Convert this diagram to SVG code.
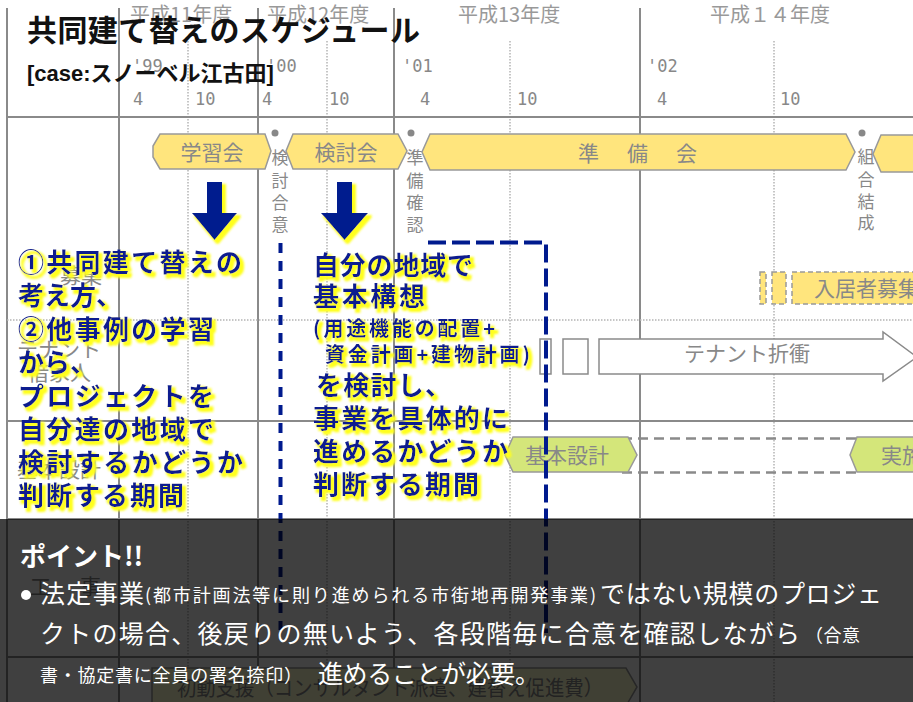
<svg xmlns="http://www.w3.org/2000/svg" width="913" height="702" viewBox="0 0 913 702">
<style>
.jp{font-family:'Noto Sans CJK JP','Noto Sans',sans-serif}
.gl{stroke:#8a8a8a;stroke-width:2;fill:none}
.dl{stroke:#b4b4b4;stroke-width:1.5;stroke-dasharray:1.5 1.5;fill:none}
.hdr{font-family:'Noto Sans CJK JP',sans-serif;font-size:20px;fill:#999}
.mono{font-family:'DejaVu Sans Mono','Liberation Mono',monospace;font-size:17px;fill:#888}
.lbl{font-family:'Noto Sans CJK JP',sans-serif;font-size:21px;fill:#888}
.vt{font-family:'Noto Sans CJK JP',sans-serif;font-size:17px;fill:#888;text-anchor:middle}
.yel{fill:#ffe57d;stroke:#999;stroke-width:1.5}
.grn{fill:#d4e67a;stroke:#999;stroke-width:1.5}
.wht{fill:#fff;stroke:#8a8a8a;stroke-width:1.5}
.dot{fill:#888}
.big{font-family:'Noto Sans CJK JP',sans-serif;font-weight:bold;fill:#0a1f8f}
.nav{stroke:#001a8e;stroke-width:4;fill:none}
.wt{font-family:'Noto Sans CJK JP',sans-serif;fill:#fff}
</style>
<defs>
<filter id="glow" x="-10%" y="-30%" width="130%" height="170%">
<feMorphology in="SourceAlpha" operator="dilate" radius="1.2" result="d"/>
<feOffset in="d" dx="3" dy="3" result="o"/>
<feGaussianBlur in="o" stdDeviation="1.3" result="b"/>
<feFlood flood-color="#ffff1a"/>
<feComposite in2="b" operator="in" result="y"/>
<feMerge><feMergeNode in="y"/><feMergeNode in="SourceGraphic"/></feMerge>
</filter>
</defs>
<rect width="913" height="702" fill="#fff"/>
<g id="grid">
<line class="gl" x1="7" y1="8" x2="7" y2="702"/>
<line class="gl" x1="119" y1="8" x2="119" y2="702"/>
<line class="gl" x1="258" y1="8" x2="258" y2="702"/>
<line class="gl" x1="394" y1="8" x2="394" y2="702"/>
<line class="gl" x1="640" y1="8" x2="640" y2="702"/>
<line class="dl" x1="188" y1="41" x2="188" y2="702"/>
<line class="dl" x1="327" y1="41" x2="327" y2="702"/>
<line class="dl" x1="510" y1="41" x2="510" y2="702"/>
<line class="dl" x1="774" y1="41" x2="774" y2="702"/>
<line class="gl" x1="7" y1="117" x2="913" y2="117"/>
<line class="dl" x1="7" y1="320" x2="913" y2="320"/>
<line class="gl" x1="7" y1="421" x2="913" y2="421"/>
<line class="gl" x1="7" y1="519" x2="913" y2="519"/>
<line class="gl" x1="7" y1="657" x2="913" y2="657"/>
</g>
<g id="header">
<text class="hdr" x="130" y="22">平成11年度</text>
<text class="hdr" x="267" y="22">平成12年度</text>
<text class="hdr" x="458" y="22">平成13年度</text>
<text class="hdr" x="710" y="22">平成１４年度</text>
<text class="mono" x="132" y="72">'99</text>
<text class="mono" x="266" y="72">'00</text>
<text class="mono" x="402" y="72">'01</text>
<text class="mono" x="647" y="72">'02</text>
<text class="mono" x="133" y="105">4</text>
<text class="mono" x="195" y="105">10</text>
<text class="mono" x="262" y="105">4</text>
<text class="mono" x="329" y="105">10</text>
<text class="mono" x="420" y="105">4</text>
<text class="mono" x="517" y="105">10</text>
<text class="mono" x="657" y="105">4</text>
<text class="mono" x="780" y="105">10</text>
</g>
<g id="row-labels">
<text class="lbl" x="60" y="283">募集</text>
<text class="lbl" x="17" y="357">テナント</text>
<text class="lbl" x="28" y="380">借家人</text>
<text class="lbl" x="17" y="477">基本設計</text>
<text class="lbl" x="30" y="594">工</text>
<text class="lbl" x="80" y="594">事</text>
</g>
<g id="node-gakushukai">
<polygon class="yel" points="160,134 265,134 271,151 265,169 160,169 153,157 153,146"/>
<text class="lbl" x="212" y="160" text-anchor="middle">学習会</text>
</g>
<g id="node-kentogoi">
<circle class="dot" cx="275" cy="133" r="3.5"/>
<text class="vt" x="280" y="164">検<tspan x="280" dy="23">討</tspan><tspan x="280" dy="22">合</tspan><tspan x="280" dy="22">意</tspan></text>
</g>
<g id="node-kentokai">
<polygon class="yel" points="293,134 398,134 407,151 398,169 293,169 286,151"/>
<text class="lbl" x="346" y="160" text-anchor="middle">検討会</text>
</g>
<g id="node-junbikakunin">
<circle class="dot" cx="411" cy="133" r="3.5"/>
<text class="vt" x="415" y="164">準<tspan x="415" dy="23">備</tspan><tspan x="415" dy="22">確</tspan><tspan x="415" dy="22">認</tspan></text>
</g>
<g id="node-junbikai">
<polygon class="yel" points="430,134 846,134 855,152 846,170 430,170 422,152"/>
<text class="lbl" x="578 627 676" y="161">準備会</text>
</g>
<g id="node-kumiai">
<circle class="dot" cx="862" cy="133" r="3.5"/>
<text class="vt" x="866" y="163">組<tspan x="866" dy="23">合</tspan><tspan x="866" dy="22">結</tspan><tspan x="866" dy="21">成</tspan></text>
<polygon class="yel" points="881,135 930,135 930,172 881,172 873,154"/>
</g>
<g id="node-nyukyosha">
<rect class="yel" x="760" y="272" width="6" height="32" stroke-dasharray="5 3"/>
<rect class="yel" x="772" y="272" width="14" height="32" stroke-dasharray="5 3"/>
<rect class="yel" x="792" y="272" width="140" height="32" stroke-dasharray="5 3"/>
<text class="lbl" x="814" y="296" font-size="22">入居者募集</text>
</g>
<g id="node-tenant">
<rect class="wht" x="540" y="339" width="11" height="35"/>
<rect class="wht" x="563" y="339" width="25" height="35"/>
<polygon class="wht" points="599,339 883,339 883,332 917,357 883,381 883,374 599,374"/>
<text class="lbl" x="747" y="361" text-anchor="middle" font-size="20">テナント折衝</text>
</g>
<g id="node-kihonsekkei">
<rect x="622" y="438.5" width="236" height="34" fill="none" stroke="#8a8a8a" stroke-width="2.5" stroke-dasharray="10 6"/>
<polygon class="grn" points="513,437 628,437 637,455 628,472 513,472 505,455"/>
<text class="lbl" x="567" y="463" text-anchor="middle" font-size="22">基本設計</text>
<polygon class="grn" points="857,437 930,437 930,472 857,472 850,455"/>
<text class="lbl" x="881" y="463" font-size="22">実施設計</text>
</g>
<g id="node-shodo">
<polygon fill="#fffed0" stroke="#999" stroke-width="1.5" points="152,668 626,668 637,687 626,706 152,706"/>
<text class="lbl" x="177" y="695" font-size="20" textLength="426" lengthAdjust="spacingAndGlyphs">初動支援（コンサルタント派遣、建替え促進費）</text>
</g>
<g id="connectors">
<path class="nav" d="M280.5,243 V630" stroke-dasharray="10 8"/>
<path class="nav" d="M428,242.5 H546 V633" stroke-dasharray="18 6"/>
<g filter="url(#glow)" fill="#001a8e">
<polygon points="207,182 222,182 222,213 237,213 214.5,240 192,213 207,213"/>
<polygon points="337,182 352,182 352,213 368,213 344.5,240 321,213 337,213"/>
</g>
</g>
<g id="text-left" class="big" font-size="26" filter="url(#glow)">
<text x="18" y="272" textLength="224">①共同建て替えの</text>
<text x="18" y="305">考え方、</text>
<text x="18" y="339" textLength="196">②他事例の学習</text>
<text x="18" y="372">から、</text>
<text x="18" y="406" textLength="196">プロジェクトを</text>
<text x="18" y="439" textLength="196">自分達の地域で</text>
<text x="18" y="472" textLength="225">検討するかどうか</text>
<text x="18" y="505" textLength="166">判断する期間</text>
</g>
<g id="text-mid" class="big" font-size="26" filter="url(#glow)">
<text x="313" y="275" textLength="160">自分の地域で</text>
<text x="313" y="306" textLength="112">基本構想</text>
<text x="313" y="336" font-size="20" textLength="182">(用途機能の配置+</text>
<text x="325" y="362" font-size="20" textLength="205">資金計画+建物計画)</text>
<text x="316" y="395" textLength="135">を検討し、</text>
<text x="313" y="428" textLength="195">事業を具体的に</text>
<text x="313" y="461" textLength="195">進めるかどうか</text>
<text x="313" y="494" textLength="166">判断する期間</text>
</g>
<g id="title" font-family="'Liberation Sans','Noto Sans CJK JP',sans-serif" font-weight="bold" fill="#111">
<text x="27" y="41" font-size="30" font-family="'Noto Sans CJK JP',sans-serif" textLength="393">共同建て替えのスケジュール</text>
<text x="27" y="81" font-size="22">[case:スノーベル江古田]</text>
</g>
<rect id="overlay" x="0" y="519" width="913" height="183" fill="#000" fill-opacity="0.75"/>
<g id="point" class="wt">
<text x="20" y="566" font-size="26" font-weight="bold">ポイント!!</text>
<circle cx="26" cy="595" r="5" fill="#fff"/>
<text x="40" y="603" font-size="25" textLength="104">法定事業</text>
<text x="145" y="602" font-size="18" textLength="451">(都市計画法等に則り進められる市街地再開発事業)</text>
<text x="600" y="603" font-size="25" textLength="282">ではない規模のプロジェ</text>
<text x="40" y="643" font-size="25" textLength="760">クトの場合、後戻りの無いよう、各段階毎に合意を確認しながら</text>
<text x="805" y="642" font-size="18" textLength="55">（合意</text>
<text x="40" y="682" font-size="18" textLength="262">書・協定書に全員の署名捺印）</text>
<text x="318" y="683" font-size="25" textLength="222">進めることが必要。</text>
</g>
</svg>
